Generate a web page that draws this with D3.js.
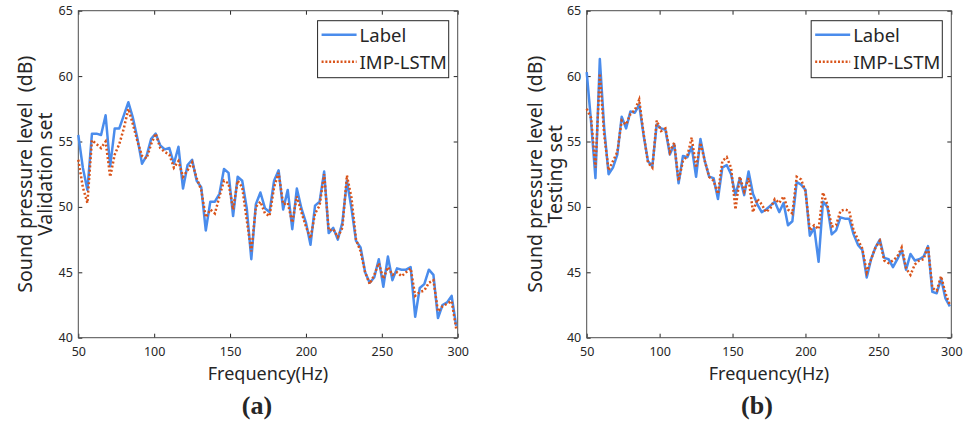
<!DOCTYPE html>
<html>
<head>
<meta charset="utf-8">
<script src="https://cdn.jsdelivr.net/npm/d3@7/dist/d3.min.js"></script>
<style>
  body { margin: 0; background: #fff; }
  text { font-family: "Noto Sans", sans-serif; fill: #262626; }
</style>
</head>
<body>
<div id="chart"></div>
<script>
// frequency bins, 3 Hz apart
var freq = d3.range(50, 300, 3);

// (a) validation set
var labelA = [55.5, 53.0, 51.3, 55.6, 55.6, 55.5, 57.0, 53.1, 56.0, 56.0,
              57.0, 58.0, 56.8, 55.2, 53.3, 53.9, 55.2, 55.6, 54.7, 54.4,
              54.5, 53.3, 54.6, 51.4, 53.2, 53.6, 52.0, 51.5, 48.2, 50.4,
              50.4, 51.0, 52.9, 52.6, 49.3, 52.3, 52.0, 49.9, 46.0, 50.2,
              51.1, 49.9, 49.6, 52.0, 52.8, 49.8, 51.3, 48.3, 51.4, 49.9,
              48.8, 47.1, 50.1, 50.4, 52.7, 48.0, 48.4, 47.5, 48.8, 52.0,
              49.9, 47.4, 46.9, 45.0, 44.2, 44.6, 46.0, 43.9, 46.2, 44.4,
              45.3, 45.2, 45.2, 45.4, 41.6, 43.8, 44.1, 45.2, 44.8, 41.5,
              42.5, 42.7, 43.2, 40.9];
var lstmA = [53.6, 51.5, 50.3, 55.1, 54.8, 54.5, 55.0, 52.3, 54.0, 54.8,
             56.0, 57.5, 56.3, 55.0, 53.9, 53.7, 54.8, 55.6, 54.5, 54.2,
             54.0, 53.0, 53.5, 52.3, 52.8, 53.4, 52.2, 51.3, 49.2, 49.8,
             49.5, 50.8, 52.0, 51.8, 49.8, 52.0, 51.5, 49.0, 46.6, 50.0,
             50.4, 49.5, 49.3, 51.5, 52.6, 50.2, 50.3, 48.8, 50.8, 49.6,
             48.5, 47.6, 49.5, 50.1, 52.5, 48.2, 48.3, 47.7, 48.4, 52.4,
             50.7, 47.5, 46.6, 45.0, 44.1, 44.8, 45.7, 44.5, 45.4, 44.8,
             45.0, 44.7, 45.0, 45.3, 43.2, 43.5, 43.6, 44.2, 44.4, 42.0,
             42.4, 42.6, 42.8, 40.7];

// (b) testing set
var labelB = [60.3, 56.5, 52.2, 61.3, 56.0, 52.5, 53.0, 54.0, 56.9, 56.0,
              57.3, 57.2, 57.8, 55.5, 53.5, 53.1, 56.3, 56.0, 55.9, 54.0,
              54.8, 51.8, 53.9, 53.8, 54.6, 52.3, 55.2, 53.5, 52.3, 52.2,
              50.6, 53.0, 53.2, 52.5, 50.9, 52.2, 50.9, 52.7, 51.0, 50.2,
              49.6, 49.8, 50.1, 50.4, 49.6, 50.3, 48.6, 48.9, 51.9, 51.7,
              51.3, 47.8, 48.4, 45.8, 50.4, 50.0, 47.9, 48.2, 49.2, 49.1,
              49.1, 47.9, 47.1, 46.7, 44.6, 46.0, 46.9, 47.5, 46.1, 46.0,
              45.4, 46.0, 46.7, 45.2, 46.4, 45.9, 46.0, 46.2, 47.0, 43.5,
              43.4, 44.5, 43.0, 42.4];
var lstmB = [57.5, 56.8, 53.0, 60.2, 55.5, 52.8, 53.5, 54.2, 56.6, 56.3,
             57.1, 57.4, 58.2, 55.6, 53.4, 53.0, 56.6, 55.8, 56.0, 54.2,
             54.9, 52.0, 53.5, 53.9, 55.3, 53.0, 54.9, 53.5, 52.3, 52.0,
             51.0, 53.5, 53.8, 53.0, 49.8, 52.3, 51.2, 52.2, 49.6, 50.6,
             50.2, 49.6, 49.9, 50.6, 50.3, 50.8, 49.8, 49.5, 52.3, 52.1,
             51.2, 48.2, 48.6, 48.3, 51.1, 50.2, 48.5, 48.6, 49.7, 49.8,
             49.7, 48.2, 47.5, 46.8, 45.0, 46.0, 46.9, 47.4, 45.9, 45.7,
             45.9, 46.2, 46.9, 45.3, 44.8, 45.6, 45.9, 46.0, 47.0, 43.8,
             43.6, 44.7, 43.4, 42.5];

var xTicks = [50, 100, 150, 200, 250, 300];
var yTicks = [40, 45, 50, 55, 60, 65];
var legendNames = ["Label", "IMP-LSTM"];

var width = 973, height = 424;
var blue = "#4a8cec", orange = "#d95319";

var svg = d3.select("#chart").append("svg")
    .attr("width", width)
    .attr("height", height);

function drawPanel(opt) {
    var x = d3.scaleLinear().domain([50, 300]).range([opt.left, opt.right]);
    var y = d3.scaleLinear().domain([40, 65]).range([337.7, 10.7]);
    var g = svg.append("g");

    // inward ticks on all four sides
    g.append("g")
        .attr("transform", "translate(0," + y(40) + ")")
        .call(d3.axisBottom(x).tickValues(xTicks).tickSize(-4).tickSizeOuter(0).tickPadding(9));
    g.append("g")
        .attr("transform", "translate(" + x(50) + ",0)")
        .call(d3.axisLeft(y).tickValues(yTicks).tickSize(-4).tickSizeOuter(0).tickPadding(5.5));
    g.append("g")
        .attr("transform", "translate(0," + y(65) + ")")
        .call(d3.axisTop(x).tickValues(xTicks).tickSize(-4).tickSizeOuter(0).tickFormat(""));
    g.append("g")
        .attr("transform", "translate(" + x(300) + ",0)")
        .call(d3.axisRight(y).tickValues(yTicks).tickSize(-4).tickSizeOuter(0).tickFormat(""));

    g.selectAll(".domain").remove();
    g.selectAll(".tick line").attr("stroke", "#262626");
    g.selectAll(".tick text").style("font-size", "12.5px").style("font-family", "Noto Sans").attr("fill", "#262626");

    g.append("rect")
        .attr("x", x(50)).attr("y", y(65))
        .attr("width", x(300) - x(50)).attr("height", y(40) - y(65))
        .attr("fill", "none").attr("stroke", "#4d4d4d").attr("stroke-width", 1);

    var line = d3.line()
        .x(function(d, i) { return x(freq[i]); })
        .y(function(d) { return y(d); });

    g.append("path").datum(opt.label)
        .attr("d", line).attr("fill", "none")
        .attr("stroke", blue).attr("stroke-width", 2.5).attr("stroke-linejoin", "round");
    g.append("path").datum(opt.lstm)
        .attr("d", line).attr("fill", "none")
        .attr("stroke", orange).attr("stroke-width", 2.5).attr("stroke-dasharray", "2,2.2");

    // axis titles
    var cx = (x(50) + x(300)) / 2, cy = (y(40) + y(65)) / 2;
    g.append("text")
        .attr("x", cx).attr("y", 380)
        .attr("text-anchor", "middle").style("font-size", "18px")
        .text("Frequency(Hz)");
    var yt = g.append("text")
        .attr("transform", "translate(" + (x(50) - opt.titleOff) + "," + cy + ") rotate(-90)")
        .attr("text-anchor", "middle").style("font-size", "19.5px").style("white-space", "pre");
    yt.append("tspan").attr("x", 0).attr("dy", 0).text("Sound pressure level  (dB)");
    yt.append("tspan").attr("x", 0).attr("dy", 20).text(opt.setName);

    g.append("text")
        .attr("x", opt.capX).attr("y", 414)
        .attr("text-anchor", "middle")
        .style("font-family", "Liberation Serif").style("font-weight", "bold").style("font-size", "26px")
        .attr("fill", "#000")
        .text(opt.caption);

    // legend
    var lg = g.append("g");
    var box = lg.append("rect").attr("fill", "#fff").attr("stroke", "#262626").attr("stroke-width", 1);
    var texts = [];
    legendNames.forEach(function(name, i) {
        var ly = 34.7 + i * 27;
        lg.append("line")
            .attr("x1", 0).attr("x2", 35).attr("y1", ly).attr("y2", ly)
            .attr("stroke", i == 0 ? blue : orange).attr("stroke-width", 2.5)
            .attr("stroke-dasharray", i == 0 ? null : "2,1.8");
        texts.push(lg.append("text")
            .attr("x", 38).attr("y", ly + 7)
            .style("font-size", "18.5px").attr("fill", "#000")
            .text(name));
    });
    var tw = d3.max(texts, function(t) { return t.node().getComputedTextLength(); });
    var bw = 38 + tw + 6;
    box.attr("x", -4).attr("y", 20.7).attr("width", bw).attr("height", 57);
    lg.attr("transform", "translate(" + (x(300) - 9 - bw + 4) + ",0)");
}

drawPanel({ left: 78.3, right: 457.7, label: labelA, lstm: lstmA,
            setName: "Validation set", caption: "(a)", capX: 257, titleOff: 46.6 });
drawPanel({ left: 586.7, right: 951.3, label: labelB, lstm: lstmB,
            setName: "Testing set", caption: "(b)", capX: 757, titleOff: 45 });
</script>
</body>
</html>
